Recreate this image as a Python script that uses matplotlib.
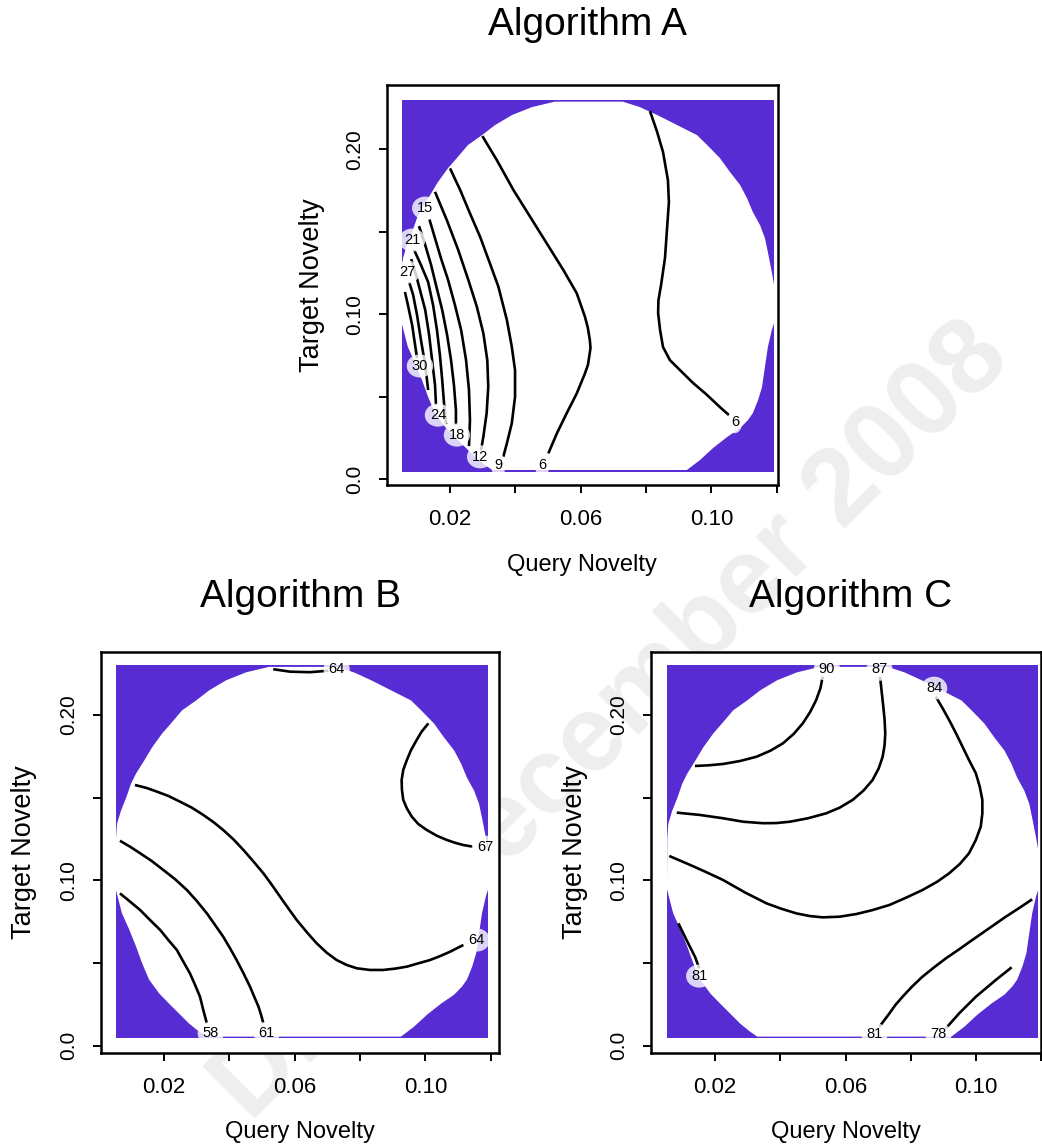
import matplotlib
matplotlib.use("Agg")
import matplotlib.pyplot as plt
from matplotlib.patches import Rectangle

# outline of the region where the grid has values (same design in all panels)
mask_x = [0.0329, 0.0307, 0.0277, 0.0246, 0.0215, 0.0185, 0.0154, 0.0133, 0.0114, 0.0093, 0.0071, 0.0052,
          0.0053, 0.0056, 0.0068, 0.0084, 0.0099, 0.0114, 0.0139, 0.0163, 0.0194, 0.0221, 0.0255, 0.0298,
          0.0338, 0.0390, 0.0451, 0.0521, 0.0729, 0.0781, 0.0834, 0.0895, 0.0956, 0.0987, 0.1026, 0.1057,
          0.1088, 0.1109, 0.1127, 0.1149, 0.1164, 0.1173, 0.1185, 0.1192, 0.1192, 0.1185, 0.1173, 0.1164,
          0.1155, 0.1143, 0.1127, 0.1112, 0.1088, 0.1048, 0.1005, 0.0965, 0.0925]
mask_y = [0.0055, 0.0085, 0.0133, 0.0194, 0.0255, 0.0316, 0.0400, 0.0498, 0.0601, 0.0704, 0.0801, 0.0947,
          0.1256, 0.1341, 0.1420, 0.1499, 0.1584, 0.1644, 0.1723, 0.1802, 0.1887, 0.1948, 0.2027, 0.2087,
          0.2148, 0.2209, 0.2257, 0.2290, 0.2290, 0.2257, 0.2209, 0.2148, 0.2087, 0.2027, 0.1948, 0.1863,
          0.1784, 0.1705, 0.1620, 0.1541, 0.1462, 0.1377, 0.1256, 0.1177, 0.0947, 0.0904, 0.0801, 0.0680,
          0.0558, 0.0479, 0.0400, 0.0358, 0.0309, 0.0255, 0.0188, 0.0115, 0.0055]
grid_x = (0.0052, 0.1192)
grid_y = (0.0045, 0.2300)

# Algorithm A contour lines
a6r_x = [0.0812, 0.0834, 0.0852, 0.0867, 0.0870, 0.0864, 0.0858, 0.0846, 0.0838, 0.0837, 0.0843, 0.0852,
         0.0873, 0.0904, 0.0944, 0.0987, 0.1026, 0.1054]
a6r_y = [0.2233, 0.2106, 0.1984, 0.1814, 0.1681, 0.1511, 0.1341, 0.1177, 0.1086, 0.1007, 0.0904, 0.0801,
         0.0722, 0.0661, 0.0583, 0.0510, 0.0437, 0.0388]
a6l_x = [0.0299, 0.0343, 0.0394, 0.0445, 0.0496, 0.0547, 0.0588, 0.0613, 0.0622, 0.0628, 0.0630, 0.0626,
         0.0622, 0.0613, 0.0588, 0.0557, 0.0527, 0.0501]
a6l_y = [0.2081, 0.1936, 0.1754, 0.1592, 0.1430, 0.1268, 0.1127, 0.0985, 0.0916, 0.0843, 0.0795, 0.0742,
         0.0692, 0.0641, 0.0520, 0.0399, 0.0277, 0.0156]
a9_x = [0.0200, 0.0231, 0.0261, 0.0292, 0.0322, 0.0348, 0.0374, 0.0389, 0.0399, 0.0399, 0.0389, 0.0374, 0.0363]
a9_y = [0.1885, 0.1754, 0.1612, 0.1470, 0.1309, 0.1167, 0.0965, 0.0803, 0.0661, 0.0499, 0.0338, 0.0217, 0.0135]
a12_x = [0.0154, 0.0190, 0.0225, 0.0256, 0.0282, 0.0302, 0.0314, 0.0317, 0.0312, 0.0302, 0.0295]
a12_y = [0.1743, 0.1572, 0.1390, 0.1208, 0.1046, 0.0884, 0.0722, 0.0560, 0.0399, 0.0257, 0.0176]
a15_x = [0.0137, 0.0151, 0.0172, 0.0194, 0.0215, 0.0234, 0.0249, 0.0258, 0.0261, 0.0258]
a15_y = [0.1575, 0.1481, 0.1341, 0.1208, 0.1056, 0.0904, 0.0722, 0.0540, 0.0358, 0.0200]
a18_x = [0.0105, 0.0124, 0.0142, 0.0157, 0.0176, 0.0191, 0.0203, 0.0212, 0.0218, 0.0218]
a18_y = [0.1535, 0.1420, 0.1299, 0.1177, 0.1026, 0.0874, 0.0722, 0.0570, 0.0419, 0.0330]
a21_x = [0.0090, 0.0111, 0.0133, 0.0148, 0.0160, 0.0169, 0.0176, 0.0182, 0.0188]
a21_y = [0.1390, 0.1299, 0.1195, 0.1056, 0.0904, 0.0752, 0.0601, 0.0449, 0.0334]
a24_x = [0.0081, 0.0096, 0.0108, 0.0124, 0.0136, 0.0145, 0.0154, 0.0157]
a24_y = [0.1335, 0.1238, 0.1147, 0.1026, 0.0874, 0.0722, 0.0570, 0.0449]
a27_x = [0.0075, 0.0087, 0.0099, 0.0111, 0.0124, 0.0133]
a27_y = [0.1195, 0.1117, 0.0995, 0.0843, 0.0692, 0.0540]
a30_x = [0.0062, 0.0071, 0.0084, 0.0093, 0.0099]
a30_y = [0.1135, 0.1056, 0.0934, 0.0813, 0.0734]
a_lab_x = [0.0124, 0.0084, 0.0068, 0.0108, 0.0163, 0.0221, 0.0292, 0.0348, 0.0482, 0.1072]
a_lab_y = [0.1644, 0.1450, 0.1256, 0.0686, 0.0388, 0.0267, 0.0135, 0.0085, 0.0085, 0.0348]
a_lab_t = ["15", "21", "27", "30", "24", "18", "12", "9", "6", "6"]

# Algorithm B contour lines
b64t_x = [0.0534, 0.0586, 0.0647, 0.0703]
b64t_y = [0.2276, 0.2261, 0.2258, 0.2267]
b67_x = [0.1009, 0.0988, 0.0973, 0.0956, 0.0943, 0.0932, 0.0927, 0.0928, 0.0932, 0.0943, 0.0958, 0.0978,
         0.1004, 0.1034, 0.1065, 0.1090, 0.1116, 0.1146]
b67_y = [0.1949, 0.1898, 0.1848, 0.1788, 0.1727, 0.1667, 0.1606, 0.1546, 0.1486, 0.1435, 0.1385, 0.1340,
         0.1304, 0.1270, 0.1244, 0.1227, 0.1213, 0.1203]
b64_x = [0.0111, 0.0147, 0.0178, 0.0213, 0.0249, 0.0285, 0.0320, 0.0351, 0.0381, 0.0412, 0.0443, 0.0473,
         0.0504, 0.0530, 0.0555, 0.0580, 0.0606, 0.0637, 0.0667, 0.0698, 0.0728, 0.0759, 0.0790, 0.0830,
         0.0871, 0.0907, 0.0943, 0.0978, 0.1014, 0.1045, 0.1075, 0.1116]
b64_y = [0.1576, 0.1558, 0.1536, 0.1510, 0.1475, 0.1439, 0.1395, 0.1352, 0.1304, 0.1248, 0.1183, 0.1115,
         0.1042, 0.0972, 0.0901, 0.0831, 0.0760, 0.0686, 0.0619, 0.0562, 0.0518, 0.0488, 0.0468, 0.0458,
         0.0458, 0.0466, 0.0478, 0.0498, 0.0518, 0.0542, 0.0568, 0.0609]
b61_x = [0.0065, 0.0096, 0.0127, 0.0162, 0.0198, 0.0234, 0.0270, 0.0300, 0.0331, 0.0356, 0.0381, 0.0402,
         0.0422, 0.0443, 0.0463, 0.0476, 0.0489, 0.0497, 0.0504]
b61_y = [0.1239, 0.1203, 0.1163, 0.1117, 0.1062, 0.1006, 0.0941, 0.0875, 0.0800, 0.0730, 0.0659, 0.0589,
         0.0518, 0.0438, 0.0357, 0.0296, 0.0236, 0.0186, 0.0135]
b58_x = [0.0065, 0.0096, 0.0127, 0.0157, 0.0188, 0.0213, 0.0239, 0.0259, 0.0279, 0.0295, 0.0310, 0.0320, 0.0331]
b58_y = [0.0921, 0.0871, 0.0820, 0.0760, 0.0700, 0.0639, 0.0579, 0.0508, 0.0438, 0.0367, 0.0296, 0.0216, 0.0135]
b_lab_x = [0.0728, 0.1182, 0.1157, 0.0514, 0.0343]
b_lab_y = [0.2276, 0.1200, 0.0639, 0.0075, 0.0075]
b_lab_t = ["64", "67", "64", "61", "58"]

# Algorithm C contour lines
c90_x = [0.0530, 0.0523, 0.0510, 0.0492, 0.0469, 0.0441, 0.0408, 0.0370, 0.0327, 0.0276, 0.0224, 0.0179, 0.0138]
c90_y = [0.2231, 0.2161, 0.2090, 0.2019, 0.1949, 0.1885, 0.1828, 0.1784, 0.1747, 0.1721, 0.1703, 0.1695, 0.1691]
c87_x = [0.0706, 0.0711, 0.0716, 0.0720, 0.0722, 0.0720, 0.0714, 0.0702, 0.0683, 0.0655, 0.0622, 0.0582,
         0.0541, 0.0485, 0.0429, 0.0388, 0.0347, 0.0286, 0.0224, 0.0153, 0.0082]
c87_y = [0.2231, 0.2140, 0.2050, 0.1969, 0.1889, 0.1818, 0.1747, 0.1677, 0.1606, 0.1542, 0.1486, 0.1439,
         0.1405, 0.1375, 0.1354, 0.1346, 0.1345, 0.1354, 0.1375, 0.1395, 0.1409]
c84_x = [0.0877, 0.0898, 0.0918, 0.0939, 0.0959, 0.0979, 0.1000, 0.1012, 0.1020, 0.1020, 0.1015, 0.1000,
         0.0979, 0.0951, 0.0918, 0.0882, 0.0836, 0.0786, 0.0735, 0.0683, 0.0633, 0.0582, 0.0530, 0.0490,
         0.0449, 0.0403, 0.0357, 0.0291, 0.0224, 0.0174, 0.0123, 0.0059]
c84_y = [0.2110, 0.2040, 0.1969, 0.1889, 0.1808, 0.1727, 0.1647, 0.1566, 0.1486, 0.1405, 0.1324, 0.1244,
         0.1163, 0.1099, 0.1042, 0.0992, 0.0941, 0.0895, 0.0851, 0.0820, 0.0796, 0.0780, 0.0776, 0.0784,
         0.0800, 0.0828, 0.0861, 0.0927, 0.1002, 0.1048, 0.1093, 0.1147]
c81a_x = [0.0087, 0.0112, 0.0138, 0.0151]
c81a_y = [0.0740, 0.0639, 0.0538, 0.0468]
c81b_x = [0.1173, 0.1132, 0.1092, 0.1041, 0.0989, 0.0949, 0.0908, 0.0872, 0.0836, 0.0804, 0.0775, 0.0753,
          0.0735, 0.0704]
c81b_y = [0.0885, 0.0831, 0.0780, 0.0710, 0.0639, 0.0583, 0.0528, 0.0474, 0.0417, 0.0357, 0.0296, 0.0246,
          0.0196, 0.0115]
c78_x = [0.1110, 0.1061, 0.1000, 0.0949, 0.0908]
c78_y = [0.0474, 0.0397, 0.0296, 0.0196, 0.0105]
c_lab_x = [0.0543, 0.0704, 0.0872, 0.0151, 0.0689, 0.0885]
c_lab_y = [0.2276, 0.2276, 0.2161, 0.0421, 0.0069, 0.0069]
c_lab_t = ["90", "87", "84", "81", "81", "78"]

x_ticks = [0.02, 0.04, 0.06, 0.08, 0.10, 0.12]
x_ticklabels = ["0.02", "", "0.06", "", "0.10", ""]
y_ticks = [0.0, 0.05, 0.10, 0.15, 0.20]
y_ticklabels = ["0.0", "", "0.10", "", "0.20"]

PURPLE = "#572cd3"
SANS = ["Liberation Sans", "DejaVu Sans"]
W, H = 1042, 1147

fig = plt.figure(figsize=(W / 100, H / 100), dpi=100)


def fp(x, y):
    # pixel position on the page -> figure fraction
    return x / W, 1 - y / H


fig.text(*fp(612, 722), "Draft December 2008", rotation=45, ha="center", va="center",
         fontsize=78, fontweight="bold", color="#eeeeee", family=SANS, zorder=-5)


def panel(box, xlim, ylim, lines, lab_x, lab_y, lab_t):
    l, t, r, b = box
    ax = fig.add_axes([l / W, 1 - b / H, (r - l) / W, (b - t) / H])
    ax.add_patch(Rectangle((grid_x[0], grid_y[0]), grid_x[1] - grid_x[0], grid_y[1] - grid_y[0],
                           fc=PURPLE, ec="none", zorder=1))
    ax.fill(mask_x, mask_y, fc="white", ec="none", zorder=1.5)
    for xs, ys in lines:
        ax.plot(xs, ys, color="black", lw=1.9, zorder=2, solid_capstyle="butt", solid_joinstyle="round")
    for x, y, s in zip(lab_x, lab_y, lab_t):
        ax.text(x, y, s, ha="center", va="center", fontsize=10.5, family=SANS, zorder=3,
                bbox=dict(boxstyle="ellipse,pad=0.08", fc="white", ec="none", alpha=0.8))
    ax.set_xlim(*xlim)
    ax.set_ylim(*ylim)
    ax.set_xticks(x_ticks)
    ax.set_xticklabels(x_ticklabels, fontsize=16, family=SANS)
    ax.set_yticks(y_ticks)
    ax.set_yticklabels(y_ticklabels, fontsize=15, family=SANS, rotation=90, va="center")
    ax.tick_params(direction="out", length=5.5, width=1.4, colors="black")
    ax.tick_params(axis="x", pad=12)
    ax.tick_params(axis="y", pad=11)
    for sp in ax.spines.values():
        sp.set_linewidth(1.8)
    return ax


panel((387, 85, 778, 485), (0.0007, 0.1204), (-0.0036, 0.2391),
      [(a6r_x, a6r_y), (a6l_x, a6l_y), (a9_x, a9_y), (a12_x, a12_y), (a15_x, a15_y),
       (a18_x, a18_y), (a21_x, a21_y), (a24_x, a24_y), (a27_x, a27_y), (a30_x, a30_y)],
      a_lab_x, a_lab_y, a_lab_t)
panel((101, 652, 499, 1053), (0.0007, 0.1225), (-0.0044, 0.2380),
      [(b64t_x, b64t_y), (b67_x, b67_y), (b64_x, b64_y), (b61_x, b61_y), (b58_x, b58_y)],
      b_lab_x, b_lab_y, b_lab_t)
panel((651, 652, 1041, 1053), (0.0003, 0.1197), (-0.0044, 0.2380),
      [(c90_x, c90_y), (c87_x, c87_y), (c84_x, c84_y), (c81a_x, c81a_y), (c81b_x, c81b_y), (c78_x, c78_y)],
      c_lab_x, c_lab_y, c_lab_t)

# titles and axis titles
for (x, y), s in [((587, 25), "Algorithm A"), ((301, 597), "Algorithm B"), ((851, 597), "Algorithm C")]:
    fig.text(*fp(x, y), s, ha="center", va="center", fontsize=28, family=SANS)
for x, y in [(582, 565), (300, 1132), (846, 1132)]:
    fig.text(*fp(x, y), "Query Novelty", ha="center", va="center", fontsize=17, family=SANS)
for x, y in [(312, 285), (24, 852), (575, 852)]:
    fig.text(*fp(x, y), "Target Novelty", ha="center", va="center", rotation=90, fontsize=19.5, family=SANS)

fig.savefig("out.png", dpi=100, facecolor="white")
